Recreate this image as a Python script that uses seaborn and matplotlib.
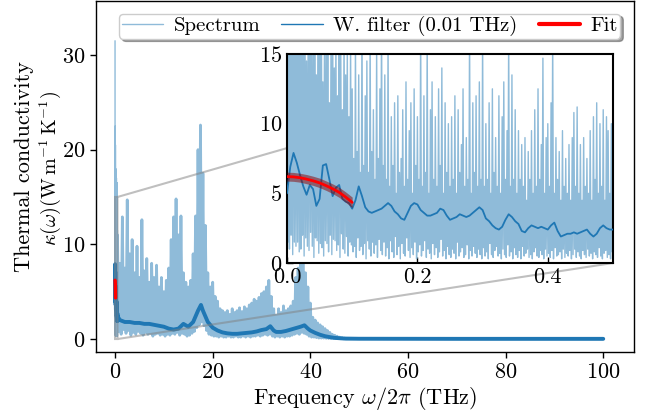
import numpy as np
import pandas as pd
import matplotlib
matplotlib.use("Agg")
import matplotlib.pyplot as plt
from matplotlib.lines import Line2D
import seaborn as sns

# ---------------- data ----------------
# fine spectrum, 0 - 0.5 THz (peaks every 0.0025 THz, troughs in between)
fine_step = 0.0025
fine_peaks = [
    31.5, 18.0, 26.0, 17.0, 22.0, 16.5, 19.0, 20.0, 15.5, 24.0, 16.0, 18.5, 14.5, 17.0, 21.0, 16.5, 16.0, 19.5, 13.5, 17.5,
    16.5, 22.5, 13.0, 16.0, 15.5, 19.0, 11.5, 15.5, 18.0, 14.0, 16.5, 12.0, 20.5, 15.0, 11.0, 17.0, 13.5, 15.5, 10.5, 16.0,
    12.5, 7.5, 16.0, 8.0, 13.5, 6.5, 17.5, 7.0, 12.0, 14.5, 6.5, 16.5, 8.0, 11.0, 6.0, 15.5, 7.5, 12.5, 18.0, 7.0,
    13.5, 6.0, 16.0, 5.5, 10.5, 7.0, 11.5, 5.0, 12.0, 6.5, 7.5, 11.0, 5.5, 13.0, 6.0, 9.5, 11.5, 5.0, 12.5, 7.0,
    10.5, 6.0, 17.0, 5.5, 12.0, 6.5, 16.0, 5.0, 11.0, 13.0, 6.0, 10.5, 5.5, 12.5, 7.0, 14.0, 5.0, 11.5, 6.5, 10.0,
    5.5, 10.5, 6.0, 12.0, 5.0, 11.0, 6.5, 8.5, 12.5, 5.5, 9.0, 6.0, 17.0, 5.0, 11.5, 6.5, 12.0, 5.5, 13.0, 6.0,
    16.5, 5.5, 10.0, 6.0, 11.5, 5.0, 12.5, 6.5, 9.0, 5.5, 12.0, 5.0, 10.5, 13.0, 6.0, 9.5, 16.5, 5.5, 13.5, 6.0,
    11.0, 5.0, 9.5, 6.0, 8.5, 5.5, 9.0, 4.5, 8.0, 6.0, 9.5, 5.0, 11.0, 5.5, 12.5, 6.0, 8.5, 14.7, 5.0, 9.0,
    10.0, 5.5, 11.5, 16.5, 5.0, 9.0, 6.0, 8.0, 4.5, 9.5, 5.5, 7.5, 5.0, 8.5, 4.5, 9.0, 10.8, 5.5, 11.2, 5.0,
    8.5, 4.5, 9.0, 5.5, 7.5, 5.0, 9.5, 4.5, 10.5, 6.0, 11.5, 5.0, 10.0, 5.5, 11.0, 4.5, 10.5, 9.5, 5.0, 10.0,
]
fine_troughs = [
    1.5, 1.0, 2.0, 0.6, 1.5, 1.2, 1.5, 0.8, 1.0, 2.0, 0.5, 1.8, 1.2, 0.9, 2.2, 1.2, 0.4, 1.8, 1.6, 0.7,
    1.4, 1.1, 0.5, 1.6, 1.4, 0.8, 2.0, 0.6, 1.7, 1.6, 0.9, 1.3, 0.4, 2.1, 1.0, 0.7, 1.9, 0.5, 1.5, 1.3,
    0.8, 1.2, 0.4, 1.8, 0.9, 1.2, 0.6, 1.4, 0.3, 1.6, 1.0, 0.5, 1.5, 0.7, 1.3, 0.4, 1.7, 0.9, 0.6, 1.5,
    0.5, 1.1, 0.3, 1.6, 0.8, 0.4, 1.9, 0.6, 1.2, 0.3, 1.4, 0.7, 0.5, 1.8, 0.9, 0.4, 1.1, 0.6, 1.5, 0.3,
    0.8, 1.3, 0.5, 0.9, 1.6, 0.4, 1.0, 0.7, 0.3, 1.4, 0.6, 1.1, 0.4, 0.8, 1.7, 0.5, 0.9, 0.3, 1.2, 0.6,
    0.4, 1.0, 0.7, 0.3, 1.5, 0.5, 0.8, 1.1, 0.4, 0.6, 1.3, 0.3, 0.9, 0.5, 1.2, 0.7, 0.4, 1.0, 0.6, 0.3,
    1.1, 0.5, 0.8, 0.3, 1.4, 0.6, 0.4, 0.9, 1.2, 0.5, 0.7, 0.3, 1.0, 0.6, 0.4, 1.3, 0.5, 0.8, 0.3, 1.1,
    0.6, 0.4, 0.9, 0.3, 1.2, 0.5, 0.7, 1.0, 0.4, 0.6, 0.3, 0.8, 1.1, 0.5, 0.4, 0.9, 0.6, 0.3, 1.0, 0.5,
    0.7, 0.4, 0.9, 0.3, 1.1, 0.5, 0.6, 0.8, 0.3, 1.0, 0.4, 0.7, 0.5, 0.9, 0.3, 0.6, 1.0, 0.4, 0.8, 0.5,
    0.3, 0.9, 0.6, 0.4, 1.0, 0.5, 0.7, 0.3, 0.8, 0.6, 0.4, 1.1, 0.5, 0.3, 0.7, 0.9, 0.4, 0.6, 0.3, 0.8,
]
# coarse spectrum, 0.5 - 47 THz (peaks every 0.5 THz, troughs in between)
coarse_start = 0.5
coarse_step = 0.5
coarse_peaks = [
    11.0, 8.0, 12.9, 7.5, 14.7, 9.0, 10.5, 7.0, 9.8, 6.5,
    12.6, 7.2, 8.5, 6.0, 8.0, 6.5, 7.8, 5.5, 6.5, 5.0,
    6.2, 7.5, 10.5, 12.9, 14.8, 11.0, 13.0, 7.0, 6.0, 5.5,
    6.2, 9.0, 13.0, 20.0, 22.6, 17.5, 12.0, 7.0, 5.5, 6.0,
    4.5, 4.0, 3.2, 3.0, 2.8, 3.0, 2.6, 3.2, 2.8, 3.0,
    3.3, 2.9, 3.4, 3.2, 3.6, 3.8, 4.2, 4.0, 4.4, 4.8,
    5.0, 5.5, 6.2, 4.5, 3.2, 2.5, 3.2, 2.8, 3.5, 3.0,
    3.2, 3.5, 4.0, 6.5, 7.5, 8.0, 9.0, 7.0, 5.5, 3.8,
    2.3, 2.0, 1.7, 1.5, 1.3, 1.1, 0.9, 0.7, 0.5, 0.4,
    0.3, 0.2, 0.15, 0.1,
]
coarse_troughs = [
    0.8, 0.5, 1.0, 0.6, 0.9, 0.4, 0.7, 0.5, 0.8, 0.6,
    0.4, 0.7, 0.5, 0.6, 0.3, 0.5, 0.6, 0.4, 0.5, 0.3,
    0.5, 0.4, 0.6, 0.5, 0.7, 0.4, 0.6, 0.5, 0.3, 0.4,
    0.6, 0.8, 1.2, 1.5, 1.8, 1.4, 0.9, 0.5, 0.4, 0.3,
    0.3, 0.2, 0.3, 0.2, 0.2, 0.3, 0.2, 0.2, 0.3, 0.2,
    0.2, 0.3, 0.2, 0.3, 0.2, 0.3, 0.3, 0.4, 0.3, 0.4,
    0.5, 0.4, 0.5, 0.3, 0.2, 0.3, 0.2, 0.3, 0.2, 0.3,
    0.3, 0.4, 0.5, 0.6, 0.5, 0.7, 0.6, 0.5, 0.3, 0.2,
    0.2, 0.15, 0.1, 0.1, 0.1, 0.08, 0.06, 0.05, 0.05, 0.04,
    0.04, 0.03, 0.03, 0.02,
]
tail_freq = [50, 60, 70, 80, 90, 100]
tail_vals = [0.04, 0.03, 0.03, 0.02, 0.02, 0.02]

# Welch-filtered spectrum
filt_fine_step = 0.005
filt_fine_vals = [
    5.0, 6.9, 7.9, 7.2, 6.3, 5.5, 4.9, 5.6, 5.3, 4.1,
    4.6, 7.0, 7.1, 6.0, 4.8, 5.4, 5.6, 4.6, 4.4, 4.3,
    3.9, 4.5, 5.5, 4.8, 4.0, 3.7, 3.6, 3.7, 3.8, 3.9,
    4.1, 4.3, 4.1, 3.7, 3.5, 3.2, 3.1, 3.6, 4.1, 4.3,
    4.2, 3.8, 3.6, 3.4, 3.4, 3.5, 3.6, 3.9, 3.8, 3.4,
    3.1, 3.2, 3.3, 3.5, 3.4, 3.3, 3.4, 3.6, 3.8, 4.0,
    3.8, 3.2, 3.0, 2.7, 2.5, 2.4, 2.6, 3.1, 3.5, 3.3,
    3.0, 2.8, 2.3, 2.2, 2.5, 2.7, 2.6, 2.5, 2.6, 2.5,
    2.4, 2.7, 2.9, 2.3, 1.9, 2.0, 2.1, 2.1, 2.2, 2.1,
    2.2, 2.3, 2.4, 2.1, 1.9, 2.1, 2.5, 2.7, 2.5, 2.4, 2.4,
]
filt_coarse_freq = [1, 2, 3, 4, 5, 6, 7, 8, 9, 10, 11, 12, 13, 14, 15, 16, 17, 17.6, 18, 19,
                    20, 21, 22, 23, 24, 25, 26, 27, 28, 29, 30, 31, 31.8, 32.5, 33, 34, 35, 36,
                    37, 38, 38.8, 39.5, 40, 41, 42, 43, 44, 45, 46, 47, 50, 60, 70, 80, 90, 100]
filt_coarse_vals = [2.0, 1.8, 1.8, 1.7, 1.7, 1.6, 1.6, 1.5, 1.4, 1.3, 1.1, 1.0, 1.1, 1.6, 1.3, 1.8, 3.0, 3.6, 3.0, 1.8,
                    1.2, 0.9, 0.7, 0.6, 0.55, 0.55, 0.6, 0.65, 0.7, 0.8, 0.95, 1.05, 1.35, 0.9, 0.75, 0.75, 0.85, 1.0,
                    1.15, 1.3, 1.45, 1.1, 0.9, 0.65, 0.45, 0.3, 0.2, 0.12, 0.08, 0.05, 0.03, 0.02, 0.02, 0.02, 0.02, 0.02]

# fit (0 - 0.1 THz) and its uncertainty band
fit_freq = [0.0, 0.01, 0.02, 0.03, 0.04, 0.05, 0.06, 0.07, 0.08, 0.09, 0.10]
fit_vals = [6.2, 6.18, 6.12, 6.02, 5.9, 5.75, 5.55, 5.33, 5.07, 4.73, 4.35]
fit_err = [0.32, 0.32, 0.32, 0.33, 0.33, 0.34, 0.34, 0.35, 0.36, 0.37, 0.38]

x_ticks_main = [0, 20, 40, 60, 80, 100]
y_ticks_main = [0, 10, 20, 30]
x_ticks_ins = [0.0, 0.2, 0.4]
y_ticks_ins = [0, 5, 10, 15]

legend_labels = ["Spectrum", "W. filter (0.01 THz)", "Fit"]
ylabel_line1 = "Thermal conductivity"
ylabel_line2 = r"$\kappa(\omega)(\mathrm{W\,m^{-1}\,K^{-1}})$"
xlabel = r"Frequency $\omega/2\pi$ (THz)"

# ---------------- assemble series ----------------
fine_f, fine_v = [], []
for k, (p, t) in enumerate(zip(fine_peaks, fine_troughs)):
    fine_f += [k * fine_step, k * fine_step + fine_step / 2]
    fine_v += [p, t]
coarse_f, coarse_v = [], []
for k, (p, t) in enumerate(zip(coarse_peaks, coarse_troughs)):
    coarse_f += [coarse_start + k * coarse_step, coarse_start + k * coarse_step + coarse_step / 2]
    coarse_v += [p, t]
coarse_f += tail_freq
coarse_v += tail_vals
fine = pd.DataFrame({"f": fine_f, "k": fine_v})
coarse = pd.DataFrame({"f": [fine_f[-1]] + coarse_f, "k": [fine_v[-1]] + coarse_v})

filt_fine_freq = [i * filt_fine_step for i in range(len(filt_fine_vals))]
filt = pd.DataFrame({"f": filt_fine_freq + filt_coarse_freq,
                     "k": filt_fine_vals + filt_coarse_vals})
fit = pd.DataFrame({"f": fit_freq, "k": fit_vals, "e": fit_err})

# ---------------- style ----------------
sns.set_style("ticks")
plt.rcParams.update({
    "font.family": ["cmr10", "DejaVu Serif"],
    "mathtext.fontset": "cm",
    "axes.formatter.use_mathtext": True,
    "axes.unicode_minus": False,
    "font.size": 16,
    "axes.labelsize": 16,
    "xtick.labelsize": 16,
    "ytick.labelsize": 16,
    "legend.fontsize": 15,
    "axes.edgecolor": "black",
    "axes.linewidth": 1.0,
    "xtick.color": "black",
    "ytick.color": "black",
    "text.color": "black",
    "axes.labelcolor": "black",
})

spec_col = "#8fbbd9"   # tab:blue at half opacity on white

fig = plt.figure(figsize=(6.6, 4.11), dpi=100)
ax = fig.add_axes([96 / 660, 1 - 352 / 411, 538 / 660, 351 / 411])

sns.lineplot(data=coarse, x="f", y="k", ax=ax, color=spec_col, lw=2.0,
             estimator=None, sort=False, legend=False, zorder=2)
sns.lineplot(data=fine, x="f", y="k", ax=ax, color=spec_col, lw=1.0,
             estimator=None, sort=False, legend=False, zorder=2)
sns.lineplot(data=filt, x="f", y="k", ax=ax, color="C0", lw=2.8,
             estimator=None, sort=False, legend=False, zorder=3)
ax.fill_between(fit.f, fit.k - fit.e, fit.k + fit.e, color="darkred", alpha=0.5, lw=0, zorder=4)
sns.lineplot(data=fit, x="f", y="k", ax=ax, color="red", lw=2.5,
             estimator=None, sort=False, legend=False, zorder=5)

ax.set_xlim(-3.9, 106.3)
ax.set_ylim(-1.37, 35.7)
ax.set_xticks(x_ticks_main)
ax.set_yticks(y_ticks_main)
ax.tick_params(direction="out", length=4, width=1)
ax.set_xlabel(xlabel, labelpad=2)

# two-line y label
ax.set_ylabel(ylabel_line1, fontsize=16)
ax.yaxis.set_label_coords(-0.134, 0.527)
ax.yaxis.label.set_verticalalignment("center")
ax.text(-0.086, 0.522, ylabel_line2, transform=ax.transAxes, rotation=90,
        rotation_mode="anchor", ha="center", va="center", fontsize=14.5)

handles = [Line2D([], [], color=spec_col, lw=1.0),
           Line2D([], [], color="C0", lw=1.0),
           Line2D([], [], color="red", lw=3.0)]
leg = ax.legend(handles, legend_labels,
                loc="upper center", bbox_to_anchor=(0.509, 1.0), ncol=3,
                shadow=True, fancybox=True, framealpha=1, edgecolor="0.8",
                borderaxespad=0.6, columnspacing=1.0, handlelength=2.0,
                handletextpad=0.5, borderpad=0.12)

# inset
axins = ax.inset_axes([(287 - 96) / 538, (352 - 263) / 351, 326 / 538, 209 / 351])
sns.lineplot(data=fine, x="f", y="k", ax=axins, color=spec_col, lw=1.0,
             estimator=None, sort=False, legend=False, zorder=2)
sns.lineplot(data=filt[filt.f <= 0.5], x="f", y="k", ax=axins, color="C0", lw=1.3,
             estimator=None, sort=False, legend=False, zorder=3)
axins.fill_between(fit.f, fit.k - fit.e, fit.k + fit.e, color="darkred", alpha=0.5, lw=0, zorder=4)
sns.lineplot(data=fit, x="f", y="k", ax=axins, color="red", lw=2.0,
             estimator=None, sort=False, legend=False, zorder=5)
axins.set_xlim(0, 0.5)
axins.set_ylim(0, 15)
axins.set_xticks(x_ticks_ins)
axins.set_yticks(y_ticks_ins)
axins.set_xticklabels([f"{v:.1f}" for v in x_ticks_ins])
axins.tick_params(direction="in", length=4, width=1)
axins.set_xlabel("")
axins.set_ylabel("")
for s in axins.spines.values():
    s.set_linewidth(1.5)
    s.set_color("black")

ind = ax.indicate_inset_zoom(axins, edgecolor="0.5", alpha=0.5, linewidth=1.5)

fig.savefig("out.png", dpi=100)
